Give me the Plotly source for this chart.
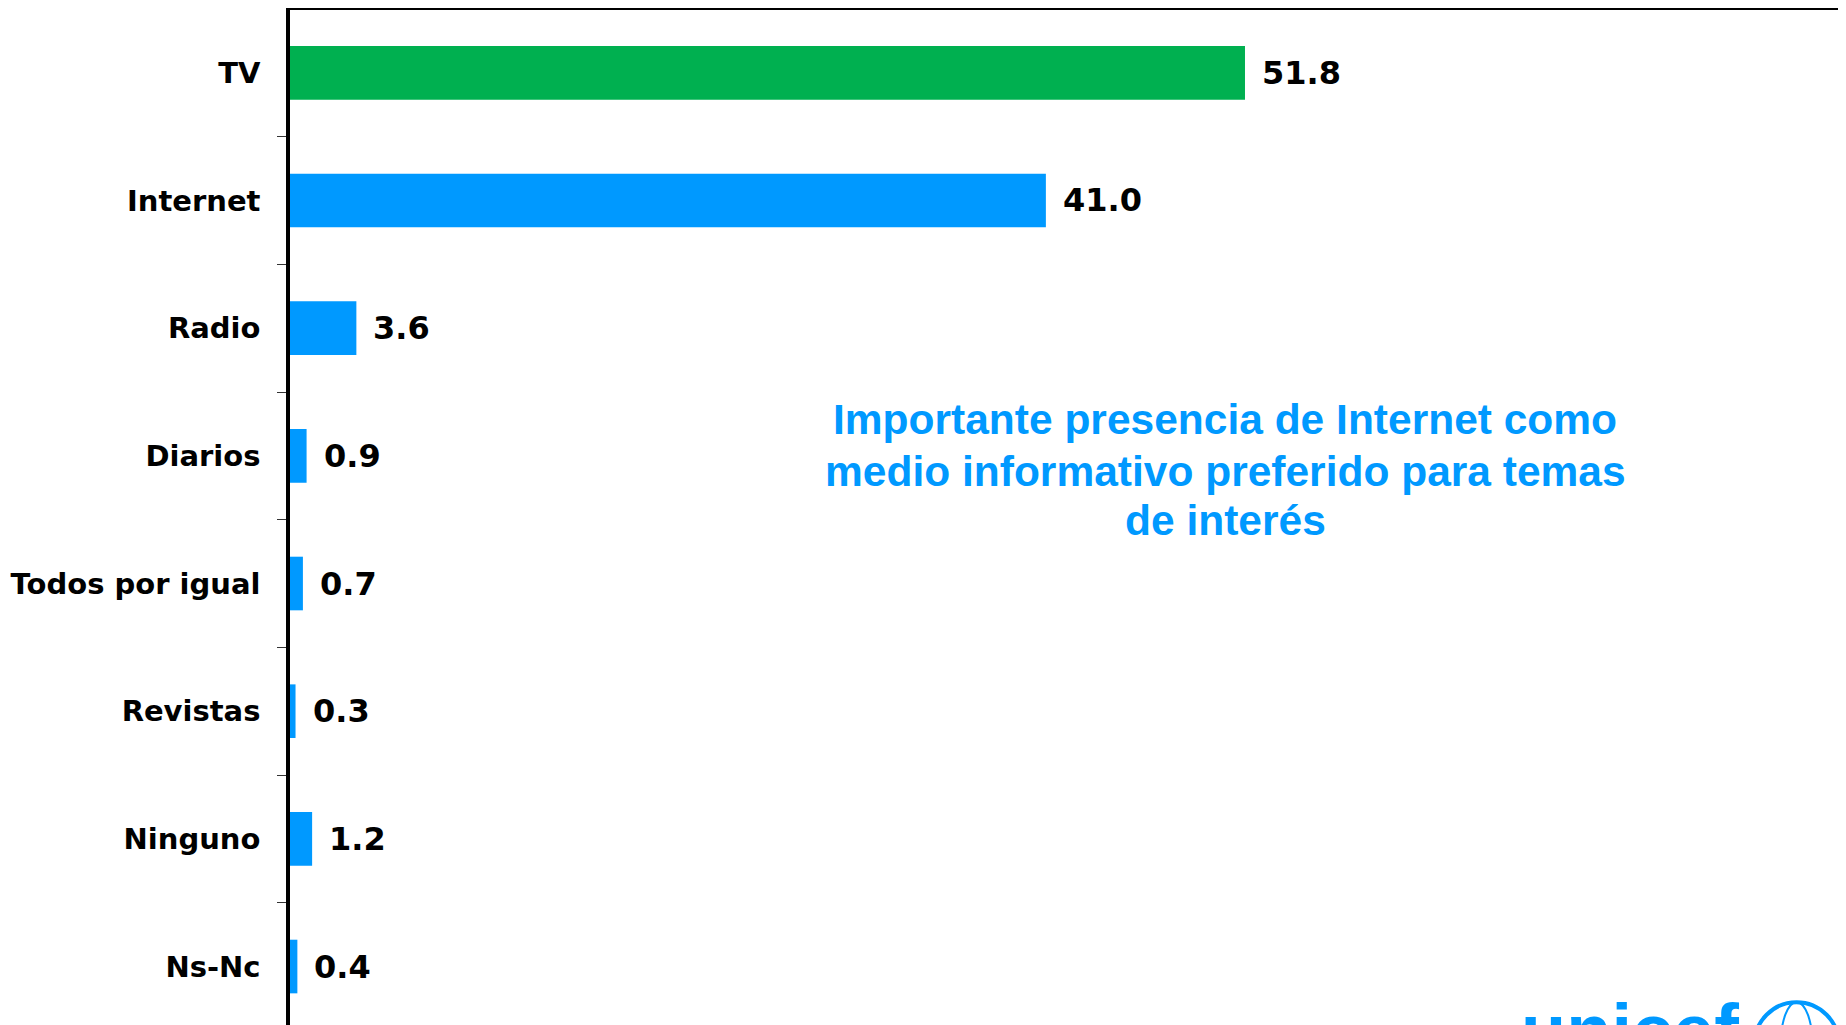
import plotly.graph_objects as go

# data
categories = ['TV', 'Internet', 'Radio', 'Diarios', 'Todos por igual', 'Revistas', 'Ninguno', 'Ns-Nc']
values = [51.8, 41.0, 3.6, 0.9, 0.7, 0.3, 1.2, 0.4]
value_labels = ['51.8', '41.0', '3.6', '0.9', '0.7', '0.3', '1.2', '0.4']
note_lines = ['Importante presencia de Internet como',
              'medio informativo preferido para temas',
              'de interés']

green = '#00B050'
blue = '#0099FF'
bar_colors = [green] + [blue] * (len(categories) - 1)

label_font = dict(family='DejaVu Sans', size=29, color='black', weight='bold')
value_font = dict(family='DejaVu Sans', size=32, color='black', weight='bold')
note_font = dict(family='Liberation Sans', size=42.5, color=blue, weight='bold')

fig = go.Figure()

fig.add_trace(
    go.Bar(x=values, y=categories, orientation='h',
           marker=dict(color=bar_colors, line=dict(width=0)),
           width=0.42, hoverinfo='x+y')
)

# value labels next to each bar
for cat, val, lab in zip(categories, values, value_labels):
    fig.add_annotation(x=val, y=cat, text=lab, showarrow=False,
                       xanchor='left', yanchor='middle', xshift=15,
                       font=value_font)

# comment text, one annotation per line
for line, ypos in zip(note_lines, [0.5970, 0.5458, 0.4966]):
    fig.add_annotation(xref='paper', yref='paper', x=0.601, y=ypos,
                       text=line, showarrow=False,
                       xanchor='center', yanchor='middle', font=note_font)

# logo, cut off at the bottom edge
fig.add_annotation(
    xref='paper', yref='paper', x=0.79, y=-0.048,
    text='unicef', showarrow=False, xanchor='left', yanchor='bottom',
    font=dict(family='Liberation Sans', size=74, color=blue, weight='bold')
)
fig.add_shape(type='circle', xref='paper', yref='paper',
              x0=0.941, x1=0.9955, y0=-0.062, y1=0.0225,
              line=dict(color=blue, width=4))
fig.add_shape(type='circle', xref='paper', yref='paper',
              x0=0.958, x1=0.9785, y0=-0.062, y1=0.0225,
              line=dict(color=blue, width=2))

fig.update_layout(
    width=1838, height=1017,
    margin=dict(l=282, r=0, t=2, b=0),
    plot_bgcolor='white', paper_bgcolor='white',
    showlegend=False,
)

fig.update_xaxes(
    side='top', range=[0, 84.4],
    showline=True, linecolor='black', linewidth=3.5,
    showticklabels=False, ticks='', showgrid=False, zeroline=False,
)

fig.update_yaxes(
    type='category', categoryorder='array', categoryarray=categories,
    range=[7.458, -0.492],
    showline=True, linecolor='black', linewidth=3.5,
    ticks='outside', ticklen=9, tickwidth=1, tickcolor='#333333',
    tickson='boundaries', ticklabelstandoff=20,
    tickfont=label_font, showgrid=False, zeroline=False,
)

fig.write_html('out.html')
